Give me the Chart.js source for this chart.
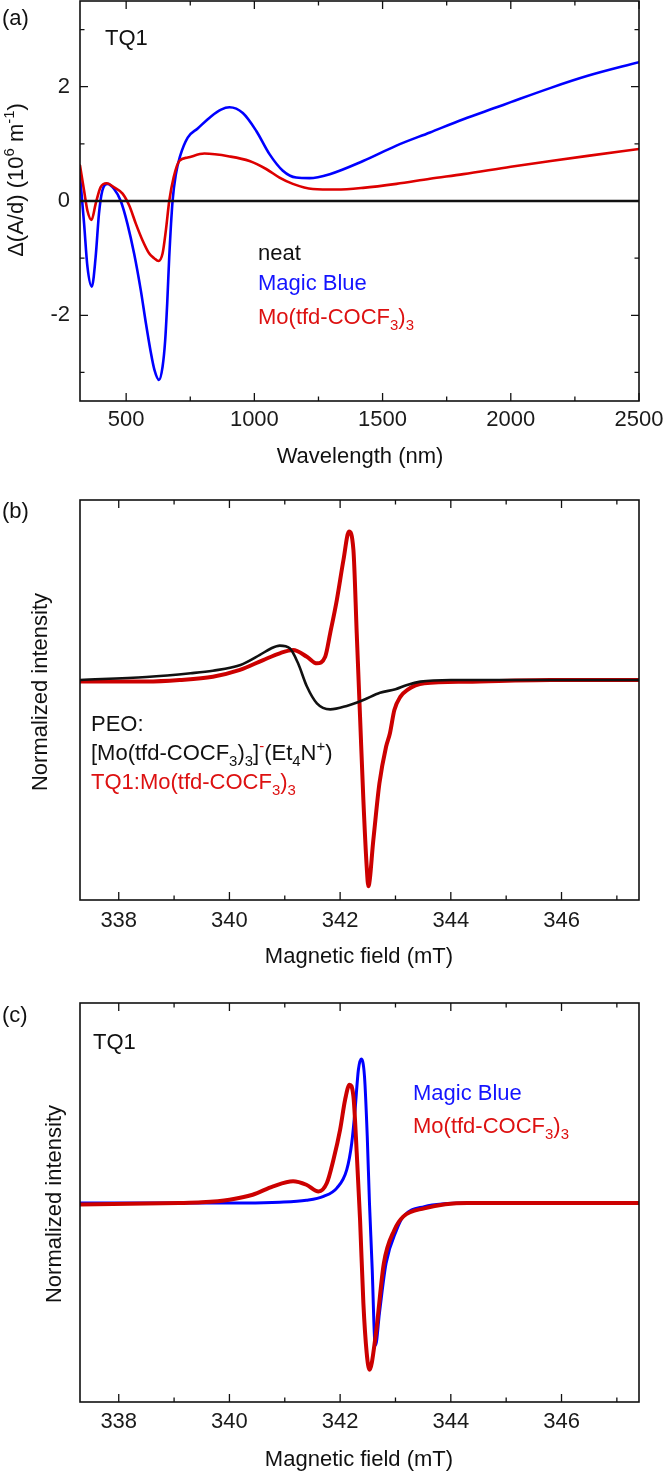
<!DOCTYPE html>
<html><head><meta charset="utf-8">
<script src="https://cdn.jsdelivr.net/npm/chart.js@4.4.0/dist/chart.umd.min.js"></script>
<style>
html,body{margin:0;padding:0;background:#fff;width:664px;height:1473px;overflow:hidden}
.p{position:absolute;left:0;width:664px}
</style></head><body>
<div class="p" style="top:0;height:470px"><canvas id="ca"></canvas></div>
<div class="p" style="top:480px;height:500px"><canvas id="cb"></canvas></div>
<div class="p" style="top:980px;height:493px"><canvas id="cc"></canvas></div>
<script>
const FONT = '"Liberation Sans", Arial, sans-serif';

// ---------- Panel (a): absorption change vs wavelength ----------
const wavelengthTicks = [500, 750, 1000, 1250, 1500, 1750, 2000, 2250, 2500];
const wavelengthLabels = [500, 1000, 1500, 2000, 2500];
const absTicks = [-3, -2, -1, 0, 1, 2, 3];
const absLabels = [-2, 0, 2];
const neatWavelength = [320, 2500];
const neatValues = [0, 0];
const magicBlueWavelength = [320, 336, 349, 366, 381, 394, 407, 427, 453, 479, 505, 531, 557, 577, 595, 610, 628, 642, 652, 660, 668, 681, 694, 710, 740, 779, 831, 870, 903, 955, 1007, 1059, 1111, 1163, 1215, 1294, 1424, 1554, 1685, 1815, 1945, 2000, 2156, 2300, 2500];
const magicBlueValues = [0.44, -0.40, -1.15, -1.50, -0.98, -0.22, 0.18, 0.30, 0.21, 0.0, -0.40, -0.92, -1.56, -2.14, -2.62, -2.95, -3.13, -2.90, -2.45, -1.80, -0.98, 0.0, 0.47, 0.78, 1.11, 1.27, 1.48, 1.60, 1.64, 1.54, 1.23, 0.82, 0.53, 0.41, 0.40, 0.47, 0.70, 0.97, 1.20, 1.43, 1.64, 1.73, 1.98, 2.19, 2.43];
const moWavelength = [320, 336, 349, 365, 381, 400, 424, 453, 486, 512, 538, 564, 590, 609, 626, 642, 655, 668, 685, 707, 740, 805, 903, 981, 1046, 1098, 1150, 1228, 1320, 1424, 1554, 1685, 1815, 2000, 2156, 2300, 2500];
const moValues = [0.62, 0.18, -0.17, -0.33, -0.05, 0.24, 0.31, 0.24, 0.13, -0.08, -0.40, -0.69, -0.92, -1.0, -1.05, -0.92, -0.51, 0.0, 0.41, 0.70, 0.76, 0.83, 0.78, 0.70, 0.56, 0.41, 0.30, 0.21, 0.20, 0.23, 0.30, 0.39, 0.47, 0.60, 0.70, 0.79, 0.91];

// ---------- Panels (b),(c): EPR spectra ----------
const fieldTicks = [338, 339, 340, 341, 342, 343, 344, 345, 346, 347];
const fieldLabels = [338, 340, 342, 344, 346];
// (b)
const peoField = [337.3, 338.5, 339.3, 339.7, 340.2, 340.55, 340.75, 340.91, 341.09, 341.24, 341.4, 341.58, 341.82, 342.12, 342.42, 342.72, 343.0, 343.21, 343.45, 344.0, 347.4];
const peoValues = [0.0, 0.02, 0.045, 0.062, 0.10, 0.167, 0.21, 0.229, 0.211, 0.111, -0.044, -0.156, -0.196, -0.173, -0.133, -0.085, -0.062, -0.033, -0.011, 0, 0];
const tq1MoFieldB = [337.3, 338.5, 339.1, 339.7, 340.19, 340.61, 340.91, 341.15, 341.40, 341.58, 341.73, 341.82, 341.94, 342.06, 342.16, 342.24, 342.30, 342.36, 342.42, 342.48, 342.51, 342.6, 342.71, 342.83, 342.9, 342.98, 343.09, 343.21, 343.52, 344.28, 345.8, 347.4];
const tq1MoValuesB = [-0.01, -0.01, 0, 0.022, 0.067, 0.133, 0.178, 0.20, 0.155, 0.111, 0.155, 0.311, 0.533, 0.80, 0.99, 0.867, 0.311, -0.245, -0.80, -1.245, -1.375, -1.067, -0.689, -0.445, -0.355, -0.2, -0.111, -0.067, -0.022, -0.011, 0, 0];
// (c)
const magicBlueField = [337.3, 340.3, 340.91, 341.39, 341.7, 341.94, 342.12, 342.21, 342.27, 342.33, 342.38, 342.44, 342.49, 342.53, 342.58, 342.62, 342.64, 342.71, 342.83, 343.02, 343.14, 343.52, 344.29, 347.4];
const magicBlueEpr = [0, 0, 0.005, 0.019, 0.046, 0.103, 0.23, 0.414, 0.643, 0.919, 0.993, 0.874, 0.46, 0, -0.46, -0.919, -0.98, -0.76, -0.416, -0.186, -0.094, -0.025, 0, 0];
const moField = [337.3, 339.09, 339.5, 340.0, 340.42, 340.79, 341.15, 341.39, 341.61, 341.76, 341.88, 342.0, 342.09, 342.17, 342.24, 342.30, 342.36, 342.42, 342.48, 342.53, 342.64, 342.79, 342.98, 343.14, 343.52, 344.3, 347.4];
const moEpr = [-0.01, 0, 0.005, 0.023, 0.057, 0.115, 0.15, 0.126, 0.08, 0.138, 0.30, 0.506, 0.712, 0.816, 0.736, 0.345, -0.115, -0.69, -1.034, -1.15, -0.92, -0.416, -0.186, -0.094, -0.037, 0, 0];

const BLUE = '#0000ff', RED = '#dd0000', RED2 = '#cc0000', BLK = '#111111';
const TXT_BLUE = '#1414ff', TXT_RED = '#dd1111';

function pts(xs, ys) { return xs.map((x, i) => ({ x: x, y: ys[i] })); }

function richWidth(ctx, segs, size) {
  let w = 0;
  for (const s of segs) { const fs = s.s ? size * 0.68 : size; ctx.font = fs + 'px ' + FONT; w += ctx.measureText(s.t).width; }
  return w;
}
function drawRich(ctx, x, y, segs, size, color, align) {
  const w = richWidth(ctx, segs, size);
  let cx = align === 'center' ? x - w / 2 : (align === 'right' ? x - w : x);
  const base = y + size * 0.358;
  ctx.textBaseline = 'alphabetic'; ctx.textAlign = 'left';
  for (const s of segs) {
    const fs = s.s ? size * 0.68 : size;
    ctx.font = fs + 'px ' + FONT;
    ctx.fillStyle = s.c || color;
    let dy = 0;
    if (s.s === 'sub') dy = size * 0.26;
    if (s.s === 'sup') dy = -size * 0.42;
    ctx.fillText(s.t, cx, base + dy);
    cx += ctx.measureText(s.t).width;
  }
}

function decor(cfg) {
  return {
    id: 'decor',
    afterDraw(chart) {
      const ctx = chart.ctx, a = chart.chartArea, xs = chart.scales.x, ys = chart.scales.y;
      ctx.save();
      ctx.strokeStyle = BLK; ctx.lineWidth = 1.6;
      ctx.strokeRect(a.left, a.top, a.right - a.left, a.bottom - a.top);
      ctx.lineWidth = 1.3; ctx.beginPath();
      for (const v of cfg.xTicks) {
        const p = xs.getPixelForValue(v);
        const L = cfg.xMajor.includes(v) ? 8 : 4.5;
        ctx.moveTo(p, a.bottom); ctx.lineTo(p, a.bottom - L);
        ctx.moveTo(p, a.top); ctx.lineTo(p, a.top + L);
      }
      if (cfg.yTicks) for (const v of cfg.yTicks) {
        const p = ys.getPixelForValue(v);
        const L = cfg.yMajor.includes(v) ? 8 : 4.5;
        ctx.moveTo(a.left, p); ctx.lineTo(a.left + L, p);
        ctx.moveTo(a.right, p); ctx.lineTo(a.right - L, p);
      }
      ctx.stroke();
      for (const t of cfg.texts) {
        const y = t.y - cfg.top;
        if (t.rot) {
          ctx.save(); ctx.translate(t.x, y); ctx.rotate(-Math.PI / 2);
          drawRich(ctx, 0, 0, t.segs, t.size || 22, t.color || BLK, 'center');
          ctx.restore();
        } else {
          drawRich(ctx, t.x, y, t.segs, t.size || 22, t.color || BLK, t.align || 'left');
        }
      }
      ctx.restore();
    }
  };
}

function noPad(s) { s.paddingLeft = 0; s.paddingRight = 0; s.paddingTop = 0; s.paddingBottom = 0; }

function xScale(min, max, ticks, labels, pad, h) {
  return {
    type: 'linear', min: min, max: max,
    grid: { display: false, drawTicks: false }, border: { display: false },
    afterBuildTicks: s => { s.ticks = ticks.map(v => ({ value: v })); },
    afterFit: s => { s.height = h; noPad(s); },
    ticks: { autoSkip: false, maxRotation: 0, padding: pad, color: '#1a1a1a',
      font: { family: FONT, size: 22 },
      callback: v => labels.includes(v) ? String(v) : '' }
  };
}

const common = {
  responsive: true, maintainAspectRatio: false, animation: false, devicePixelRatio: 1,
  plugins: { legend: { display: false }, tooltip: { enabled: false } },
  elements: { point: { radius: 0 }, line: { cubicInterpolationMode: 'monotone', borderCapStyle: 'round', borderJoinStyle: 'round' } }
};

// Panel (a)
new Chart(document.getElementById('ca'), {
  type: 'line',
  data: { datasets: [
    { data: pts(neatWavelength, neatValues), borderColor: BLK, borderWidth: 2.6 },
    { data: pts(moWavelength, moValues), borderColor: RED, borderWidth: 2.6 },
    { data: pts(magicBlueWavelength, magicBlueValues), borderColor: BLUE, borderWidth: 2.6 }
  ] },
  options: Object.assign({}, common, {
    layout: { padding: { left: 0, right: 25, top: 1, bottom: 0 } },
    scales: {
      x: xScale(320, 2500, wavelengthTicks, wavelengthLabels, 6, 69),
      y: { type: 'linear', min: -3.5, max: 3.5,
        grid: { display: false, drawTicks: false }, border: { display: false },
        afterBuildTicks: s => { s.ticks = absTicks.map(v => ({ value: v })); },
        afterFit: s => { s.width = 80; noPad(s); },
        ticks: { autoSkip: false, padding: 10, color: '#1a1a1a', font: { family: FONT, size: 22 },
          callback: v => absLabels.includes(v) ? String(v) : '' } }
    }
  }),
  plugins: [decor({ top: 0, xTicks: wavelengthTicks, xMajor: wavelengthLabels, yTicks: absTicks, yMajor: absLabels,
    texts: [
      { x: 2, y: 17, segs: [{ t: '(a)' }] },
      { x: 105, y: 37, segs: [{ t: 'TQ1' }] },
      { x: 258, y: 252, segs: [{ t: 'neat' }] },
      { x: 258, y: 282, segs: [{ t: 'Magic Blue' }], color: TXT_BLUE },
      { x: 258, y: 316, segs: [{ t: 'Mo(tfd-COCF' }, { t: '3', s: 'sub' }, { t: ')' }, { t: '3', s: 'sub' }], color: TXT_RED },
      { x: 360, y: 455, segs: [{ t: 'Wavelength (nm)' }], align: 'center' },
      { x: 15, y: 180, rot: true, segs: [{ t: '\u0394(A/d) (10' }, { t: '6', s: 'sup' }, { t: ' m' }, { t: '-1', s: 'sup' }, { t: ')' }] }
    ] })]
});

// Panel (b)
new Chart(document.getElementById('cb'), {
  type: 'line',
  data: { datasets: [
    { data: pts(peoField, peoValues), borderColor: BLK, borderWidth: 2.6 },
    { data: pts(tq1MoFieldB, tq1MoValuesB), borderColor: RED2, borderWidth: 4 }
  ] },
  options: Object.assign({}, common, {
    layout: { padding: { left: 80, right: 25, top: 20, bottom: 0 } },
    scales: {
      x: xScale(337.3, 347.4, fieldTicks, fieldLabels, 8, 80),
      y: { type: 'linear', min: -1.467, max: 1.2, display: false }
    }
  }),
  plugins: [decor({ top: 480, xTicks: fieldTicks, xMajor: fieldLabels,
    texts: [
      { x: 2, y: 510, segs: [{ t: '(b)' }] },
      { x: 91, y: 723, segs: [{ t: 'PEO:' }] },
      { x: 91, y: 752, segs: [{ t: '[Mo(tfd-COCF' }, { t: '3', s: 'sub' }, { t: ')' }, { t: '3', s: 'sub' }, { t: ']' }, { t: '-', s: 'sup', c: TXT_RED }, { t: '(Et' }, { t: '4', s: 'sub' }, { t: 'N' }, { t: '+', s: 'sup' }, { t: ')' }] },
      { x: 91, y: 781, segs: [{ t: 'TQ1:Mo(tfd-COCF' }, { t: '3', s: 'sub' }, { t: ')' }, { t: '3', s: 'sub' }], color: TXT_RED },
      { x: 359, y: 955, segs: [{ t: 'Magnetic field (mT)' }], align: 'center' },
      { x: 39, y: 692, rot: true, segs: [{ t: 'Normalized intensity' }] }
    ] })]
});

// Panel (c)
new Chart(document.getElementById('cc'), {
  type: 'line',
  data: { datasets: [
    { data: pts(moField, moEpr), borderColor: RED2, borderWidth: 4 },
    { data: pts(magicBlueField, magicBlueEpr), borderColor: BLUE, borderWidth: 3 }
  ] },
  options: Object.assign({}, common, {
    layout: { padding: { left: 80, right: 25, top: 23, bottom: 0 } },
    scales: {
      x: xScale(337.3, 347.4, fieldTicks, fieldLabels, 7, 71),
      y: { type: 'linear', min: -1.372, max: 1.379, display: false }
    }
  }),
  plugins: [decor({ top: 980, xTicks: fieldTicks, xMajor: fieldLabels,
    texts: [
      { x: 2, y: 1014, segs: [{ t: '(c)' }] },
      { x: 93, y: 1041, segs: [{ t: 'TQ1' }] },
      { x: 413, y: 1092, segs: [{ t: 'Magic Blue' }], color: TXT_BLUE },
      { x: 413, y: 1125, segs: [{ t: 'Mo(tfd-COCF' }, { t: '3', s: 'sub' }, { t: ')' }, { t: '3', s: 'sub' }], color: TXT_RED },
      { x: 359, y: 1458, segs: [{ t: 'Magnetic field (mT)' }], align: 'center' },
      { x: 53, y: 1204, rot: true, segs: [{ t: 'Normalized intensity' }] }
    ] })]
});
</script>
</body></html>
